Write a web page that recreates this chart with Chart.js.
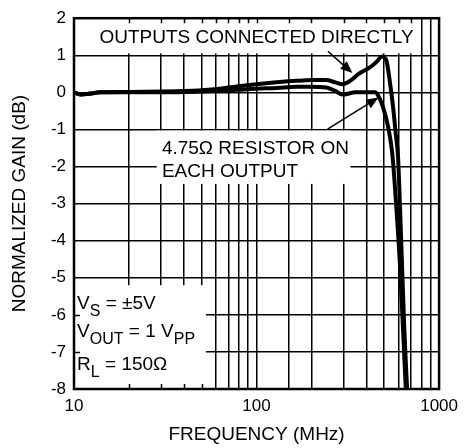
<!DOCTYPE html>
<html>
<head>
<meta charset="utf-8">
<script src="https://cdn.jsdelivr.net/npm/chart.js@4.4.1/dist/chart.umd.min.js"></script>
<style>
  html, body { margin: 0; padding: 0; background: #fff; }
  #wrap { width: 465px; height: 448px; }
</style>
</head>
<body>
<div id="wrap"><canvas id="gainChart" width="465" height="448"></canvas></div>
<script>
// --- Data (frequency in MHz, gain in dB) ---
const directFreq = [10, 11, 12, 14, 20, 30, 48, 61, 78, 100, 129, 165, 200, 240, 270, 295, 330, 361, 400, 428, 460, 485, 500, 516, 537, 560, 579, 596, 610, 625, 645, 668];
const directGain = [0, -0.06, -0.04, 0, 0.01, 0.02, 0.05, 0.09, 0.16, 0.22, 0.27, 0.31, 0.33, 0.33, 0.27, 0.22, 0.33, 0.49, 0.62, 0.71, 0.85, 0.97, 0.94, 0.84, 0.3, -0.41, -1.12, -1.75, -3.0, -4.5, -6.4, -8];

const resistorFreq = [10, 11, 12, 14, 20, 30, 48, 61, 78, 100, 129, 165, 200, 240, 270, 295, 350, 446, 465, 494, 527, 549, 560, 585, 608, 632, 657];
const resistorGain = [0, -0.06, -0.04, 0, 0, 0, 0.02, 0.04, 0.07, 0.1, 0.12, 0.15, 0.15, 0.13, 0.04, -0.06, 0, 0, -0.1, -0.41, -0.95, -1.49, -1.9, -3.2, -4.5, -6.2, -8];

const xTickLabels = [10, 100, 1000];
const yTickValues = [2, 1, 0, -1, -2, -3, -4, -5, -6, -7, -8];

const FONT = "'Liberation Sans', Arial, Helvetica, sans-serif";
Chart.defaults.font.family = FONT;
Chart.defaults.color = '#000';

// Draws the white label boxes over the grid, their texts and arrows, and the frame
const annotations = {
  id: 'annotations',
  beforeDatasetsDraw(chart) {
    const { ctx, chartArea: a, scales: { x, y } } = chart;

    // boxes in data units: [f0, f1, dB low, dB high]
    const boxes = [
      { f: [10, 742], g: [1.05, 2], edge: 'top' },
      { f: [28.4, 327], g: [-2.47, -1.03], edge: null },
      { f: [10, 52.8], g: [-8, -5.2], edge: 'bottomLeft' }
    ];

    ctx.save();
    boxes.forEach(b => {
      const x0 = x.getPixelForValue(b.f[0]);
      const x1 = x.getPixelForValue(b.f[1]);
      const y0 = y.getPixelForValue(b.g[1]);
      const y1 = y.getPixelForValue(b.g[0]);
      ctx.fillStyle = '#fff';
      ctx.fillRect(x0, y0, x1 - x0, y1 - y0);

      // short inward ticks where the box meets the axes
      ctx.strokeStyle = '#000';
      ctx.lineWidth = 1.5;
      ctx.beginPath();
      x.ticks.forEach(t => {
        const px = Math.round(x.getPixelForValue(t.value)) + 0.5;
        if (px <= x0 + 2 || px >= x1) return;
        if (b.edge === 'top') { ctx.moveTo(px, a.top); ctx.lineTo(px, a.top + 5); }
        if (b.edge === 'bottomLeft') { ctx.moveTo(px, a.bottom); ctx.lineTo(px, a.bottom - 5); }
      });
      if (b.edge === 'bottomLeft') {
        y.ticks.forEach(t => {
          const py = Math.round(y.getPixelForValue(t.value)) + 0.5;
          if (py <= y0 || py >= y1 - 2) return;
          ctx.moveTo(a.left, py); ctx.lineTo(a.left + 6, py);
        });
      }
      ctx.stroke();
    });

    // texts
    ctx.fillStyle = '#000';
    ctx.textBaseline = 'alphabetic';
    ctx.font = `19px ${FONT}`;
    ctx.textAlign = 'center';
    ctx.fillText('OUTPUTS CONNECTED DIRECTLY', (a.left + a.right) / 2, 43);

    ctx.textAlign = 'left';
    const rx = x.getPixelForValue(30.3);
    ctx.fillText('4.75\u03A9 RESISTOR ON', rx, 154);
    ctx.fillText('EACH OUTPUT', rx, 177);

    // condition lines with subscripts
    const lx = x.getPixelForValue(10.4);
    const runs = [
      { base: 309, parts: [['V', 0], ['S', 1], [' = \u00B15V', 0]] },
      { base: 337, parts: [['V', 0], ['OUT', 1], [' = 1 V', 0], ['PP', 1]] },
      { base: 370, parts: [['R', 0], ['L', 1], [' = 150\u03A9', 0]] }
    ];
    runs.forEach(r => {
      let cx = lx;
      r.parts.forEach(([txt, sub]) => {
        ctx.font = sub ? `16px ${FONT}` : `19px ${FONT}`;
        ctx.fillText(txt, cx, r.base + (sub ? 7 : 0));
        cx += ctx.measureText(txt).width;
      });
    });

    // arrows: [from f, from dB, to f, to dB]
    const arrows = [
      [246, 1.11, 335, 0.52],
      [245, -0.99, 465, -0.14]
    ];
    arrows.forEach(([f0, g0, f1, g1]) => {
      const sx = x.getPixelForValue(f0), sy = y.getPixelForValue(g0);
      const tx = x.getPixelForValue(f1), ty = y.getPixelForValue(g1);
      const ang = Math.atan2(ty - sy, tx - sx);
      const len = 12, half = 5;
      const bx = tx - len * Math.cos(ang), by = ty - len * Math.sin(ang);
      ctx.strokeStyle = '#000';
      ctx.lineWidth = 1.5;
      ctx.beginPath();
      ctx.moveTo(sx, sy);
      ctx.lineTo(bx, by);
      ctx.stroke();
      ctx.beginPath();
      ctx.moveTo(tx, ty);
      ctx.lineTo(bx + half * Math.sin(ang), by - half * Math.cos(ang));
      ctx.lineTo(bx - half * Math.sin(ang), by + half * Math.cos(ang));
      ctx.closePath();
      ctx.fill();
    });
    ctx.restore();
  },
  afterDatasetsDraw(chart) {
    const { ctx, chartArea: a } = chart;
    ctx.save();
    ctx.strokeStyle = '#000';
    ctx.lineWidth = 2.5;
    ctx.strokeRect(a.left, a.top, a.right - a.left, a.bottom - a.top);
    ctx.restore();
  }
};

const toPoints = (fs, gs) => fs.map((f, i) => ({ x: f, y: gs[i] }));

const lineStyle = {
  borderColor: '#000',
  borderWidth: 4,
  pointRadius: 0,
  fill: false,
  cubicInterpolationMode: 'monotone'
};

new Chart(document.getElementById('gainChart'), {
  type: 'line',
  data: {
    datasets: [
      { label: 'Outputs connected directly', data: toPoints(directFreq, directGain), ...lineStyle },
      { label: '4.75 ohm resistor on each output', data: toPoints(resistorFreq, resistorGain), ...lineStyle }
    ]
  },
  options: {
    responsive: false,
    animation: false,
    devicePixelRatio: 1,
    layout: { padding: { top: 17, right: 20, left: 0, bottom: 0 } },
    plugins: {
      legend: { display: false },
      tooltip: { enabled: false }
    },
    scales: {
      x: {
        type: 'logarithmic',
        min: 10,
        max: 1000,
        afterFit: s => { s.height = 59; },
        grid: { color: '#000', lineWidth: 1.5, drawTicks: false },
        border: { display: false },
        ticks: {
          autoSkip: false,
          maxRotation: 0,
          padding: 7,
          color: '#000',
          font: { size: 17 },
          callback: v => xTickLabels.includes(v) ? String(v) : ''
        },
        title: {
          display: true,
          text: 'FREQUENCY (MHz)',
          color: '#000',
          font: { size: 19 },
          padding: { top: 0, bottom: 2 }
        }
      },
      y: {
        min: -8,
        max: 2,
        afterFit: s => { s.width = 74; },
        afterBuildTicks: s => { s.ticks = yTickValues.map(v => ({ value: v })); },
        grid: { color: '#000', lineWidth: 1.5, drawTicks: false },
        border: { display: false },
        ticks: { padding: 8, color: '#000', font: { size: 17 } },
        title: {
          display: true,
          text: 'NORMALIZED GAIN (dB)',
          color: '#000',
          font: { size: 19 },
          padding: { top: 8, bottom: 0 }
        }
      }
    }
  },
  plugins: [annotations]
});
</script>
</body>
</html>
